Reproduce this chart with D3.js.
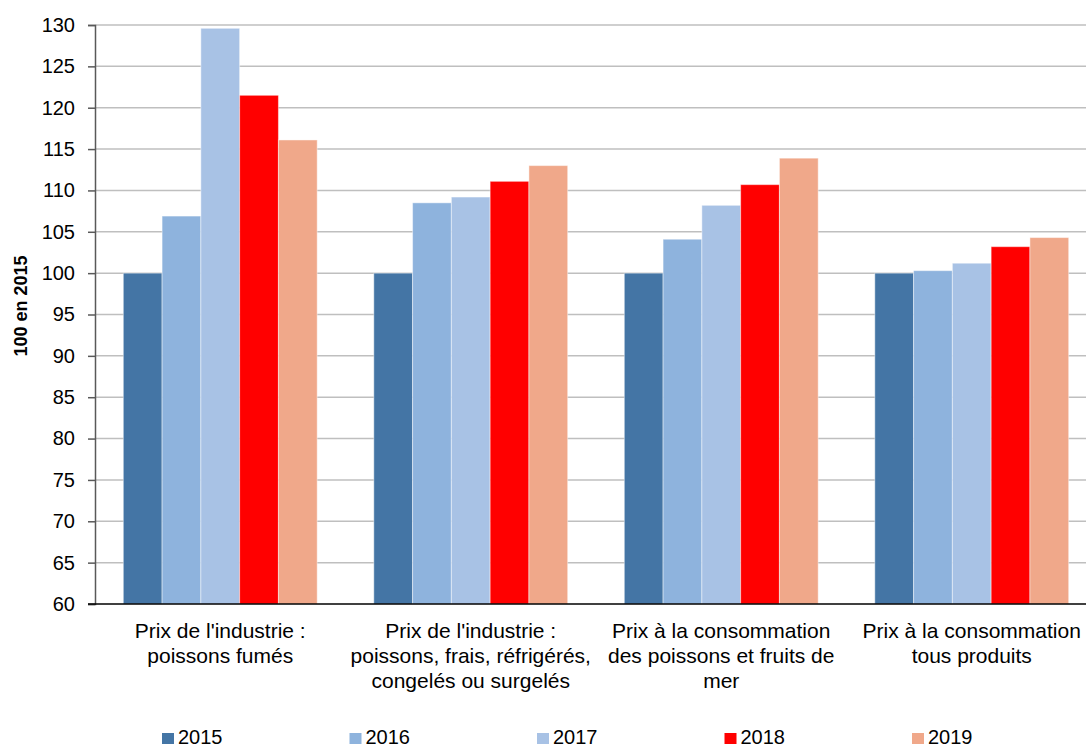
<!DOCTYPE html>
<html>
<head>
<meta charset="utf-8">
<script src="https://cdn.jsdelivr.net/npm/d3@7"></script>
<style>
  html, body { margin: 0; padding: 0; background: #fff; }
  svg { display: block; font-family: "Liberation Sans", Arial, sans-serif; }
</style>
</head>
<body>
<svg id="chart" width="1086" height="747"></svg>
<script>
// Price indices, base 100 in 2015
const categories = [
  ["Prix de l'industrie :", "poissons fumés"],
  ["Prix de l'industrie :", "poissons, frais, réfrigérés,", "congelés ou surgelés"],
  ["Prix à la consommation", "des poissons et fruits de", "mer"],
  ["Prix à la consommation", "tous produits"]
];
const years = ["2015", "2016", "2017", "2018", "2019"];
const values2015 = [100, 100, 100, 100];
const values2016 = [106.9, 108.5, 104.1, 100.3];
const values2017 = [129.6, 109.2, 108.2, 101.2];
const values2018 = [121.5, 111.1, 110.7, 103.2];
const values2019 = [116.1, 113.0, 113.9, 104.3];
const yTicks = [60, 65, 70, 75, 80, 85, 90, 95, 100, 105, 110, 115, 120, 125, 130];
const colors = ["#4475a5", "#8eb3dd", "#a8c2e5", "#ff0000", "#f0a88a"];

const series = [values2015, values2016, values2017, values2018, values2019];

const svg = d3.select("#chart");
const margin = { left: 95, top: 25, plotRight: 1097, bottom: 604 };

const x0 = d3.scaleBand()
  .domain(d3.range(categories.length))
  .range([margin.left, margin.plotRight])
  .paddingInner(0.226)
  .paddingOuter(0.113);
const x1 = d3.scaleBand()
  .domain(d3.range(years.length))
  .range([0, x0.bandwidth()]);
const y = d3.scaleLinear().domain([60, 130]).range([margin.bottom, margin.top]);

// Horizontal gridlines
svg.append("g")
  .selectAll("line")
  .data(yTicks.filter(t => t > 60))
  .join("line")
  .attr("x1", margin.left).attr("x2", margin.plotRight)
  .attr("y1", d => y(d)).attr("y2", d => y(d))
  .attr("stroke", "#bfbfbf").attr("stroke-width", 1.5);

// Bars
const groups = svg.append("g")
  .selectAll("g")
  .data(categories.map((c, i) => i))
  .join("g")
  .attr("transform", i => `translate(${x0(i)},0)`);

groups.selectAll("rect")
  .data(i => series.map((s, k) => ({ k, v: s[i] })))
  .join("rect")
  .attr("x", d => x1(d.k))
  .attr("width", x1.bandwidth())
  .attr("y", d => y(d.v))
  .attr("height", d => y(60) - y(d.v))
  .attr("fill", d => colors[d.k])
  .attr("stroke", "rgba(255,255,255,0.45)")
  .attr("stroke-width", 1);

// Y axis
const yAxis = d3.axisLeft(y).tickValues(yTicks).tickSize(7).tickPadding(13);
const gy = svg.append("g").attr("transform", `translate(${margin.left},0)`).call(yAxis);
gy.select(".domain").attr("stroke", "#595959").attr("stroke-width", 1.5);
gy.selectAll(".tick line").attr("stroke", "#595959").attr("stroke-width", 1.5);
gy.selectAll(".tick text")
  .attr("font-size", 20)
  .attr("font-family", "Liberation Sans, Arial, sans-serif")
  .attr("fill", "#000");

// X axis baseline
svg.append("line")
  .attr("x1", margin.left - 7).attr("x2", margin.plotRight)
  .attr("y1", y(60)).attr("y2", y(60))
  .attr("stroke", "#000").attr("stroke-width", 1.5);

// Category labels
const labels = svg.append("g")
  .selectAll("text")
  .data(categories)
  .join("text")
  .attr("x", (d, i) => x0(i) + x0.bandwidth() / 2)
  .attr("y", 638)
  .attr("text-anchor", "middle")
  .attr("font-size", 21)
  .attr("fill", "#000");
labels.each(function(lines, i) {
  d3.select(this).selectAll("tspan")
    .data(lines)
    .join("tspan")
    .attr("x", x0(i) + x0.bandwidth() / 2)
    .attr("dy", (l, j) => j === 0 ? 0 : 25)
    .text(l => l);
});

// Y axis title
svg.append("text")
  .attr("transform", "translate(27,306) rotate(-90)")
  .attr("text-anchor", "middle")
  .attr("font-size", 18)
  .attr("font-weight", "bold")
  .text("100 en 2015");

// Legend
const legendX = d3.scalePoint().domain(years).range([162, 912]);
const legend = svg.append("g")
  .selectAll("g")
  .data(years)
  .join("g")
  .attr("transform", d => `translate(${legendX(d)},0)`);
legend.append("rect")
  .attr("x", 0).attr("y", 733)
  .attr("width", 12).attr("height", 11)
  .attr("fill", (d, i) => colors[i]);
legend.append("text")
  .attr("x", 16).attr("y", 744)
  .attr("font-size", 20)
  .text(d => d);
</script>
</body>
</html>
